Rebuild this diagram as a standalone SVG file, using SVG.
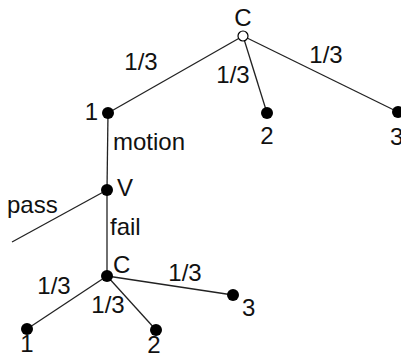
<svg xmlns="http://www.w3.org/2000/svg" width="401" height="359" viewBox="0 0 401 359">
<style>
text{font-family:"Liberation Sans",Arial,sans-serif;font-size:24px;fill:#111}
.e{stroke:#222;stroke-width:1.3;fill:none}
.d{fill:#000}
.o{fill:#fff;stroke:#000;stroke-width:1.2}
.m{text-anchor:middle}
.r{text-anchor:end}
</style>
<rect width="401" height="359" fill="#fff"/>
<g id="connectors">
<line class="e" x1="243" y1="36" x2="108" y2="113"/>
<line class="e" x1="243" y1="36" x2="267" y2="113"/>
<line class="e" x1="243" y1="36" x2="398" y2="112"/>
<line class="e" x1="108" y1="113" x2="107" y2="190"/>
<line class="e" x1="107" y1="190" x2="12" y2="242"/>
<line class="e" x1="107" y1="190" x2="107" y2="276"/>
<line class="e" x1="107" y1="276" x2="27" y2="329"/>
<line class="e" x1="107" y1="276" x2="156" y2="330"/>
<line class="e" x1="107" y1="276" x2="233" y2="295"/>
<text class="m" x="141" y="70">1/3</text>
<text class="m" x="233" y="83">1/3</text>
<text class="m" x="326" y="63">1/3</text>
<text x="113" y="150">motion</text>
<text x="7" y="213">pass</text>
<text x="110" y="235">fail</text>
<text class="m" x="54" y="294">1/3</text>
<text class="m" x="108" y="313">1/3</text>
<text class="m" x="185" y="281">1/3</text>
</g>
<g id="n0"><circle class="o" cx="243" cy="36" r="5"/><text class="m" x="243" y="26">C</text></g>
<g id="n1"><circle class="d" cx="108" cy="113" r="6"/><text class="r" x="98" y="120">1</text></g>
<g id="n2"><circle class="d" cx="267" cy="113" r="6"/><text class="m" x="267" y="144">2</text></g>
<g id="n3"><circle class="d" cx="398" cy="112" r="6"/><text x="390" y="145">3</text></g>
<g id="v"><circle class="d" cx="107" cy="190" r="6"/><text x="117" y="196">V</text></g>
<g id="c2"><circle class="d" cx="107" cy="276" r="6"/><text x="113" y="273">C</text></g>
<g id="b1"><circle class="d" cx="27" cy="329" r="6"/><text class="m" x="27" y="352">1</text></g>
<g id="b2"><circle class="d" cx="156" cy="330" r="6"/><text class="m" x="154" y="353">2</text></g>
<g id="b3"><circle class="d" cx="233" cy="295" r="6"/><text x="242" y="316">3</text></g>
</svg>
